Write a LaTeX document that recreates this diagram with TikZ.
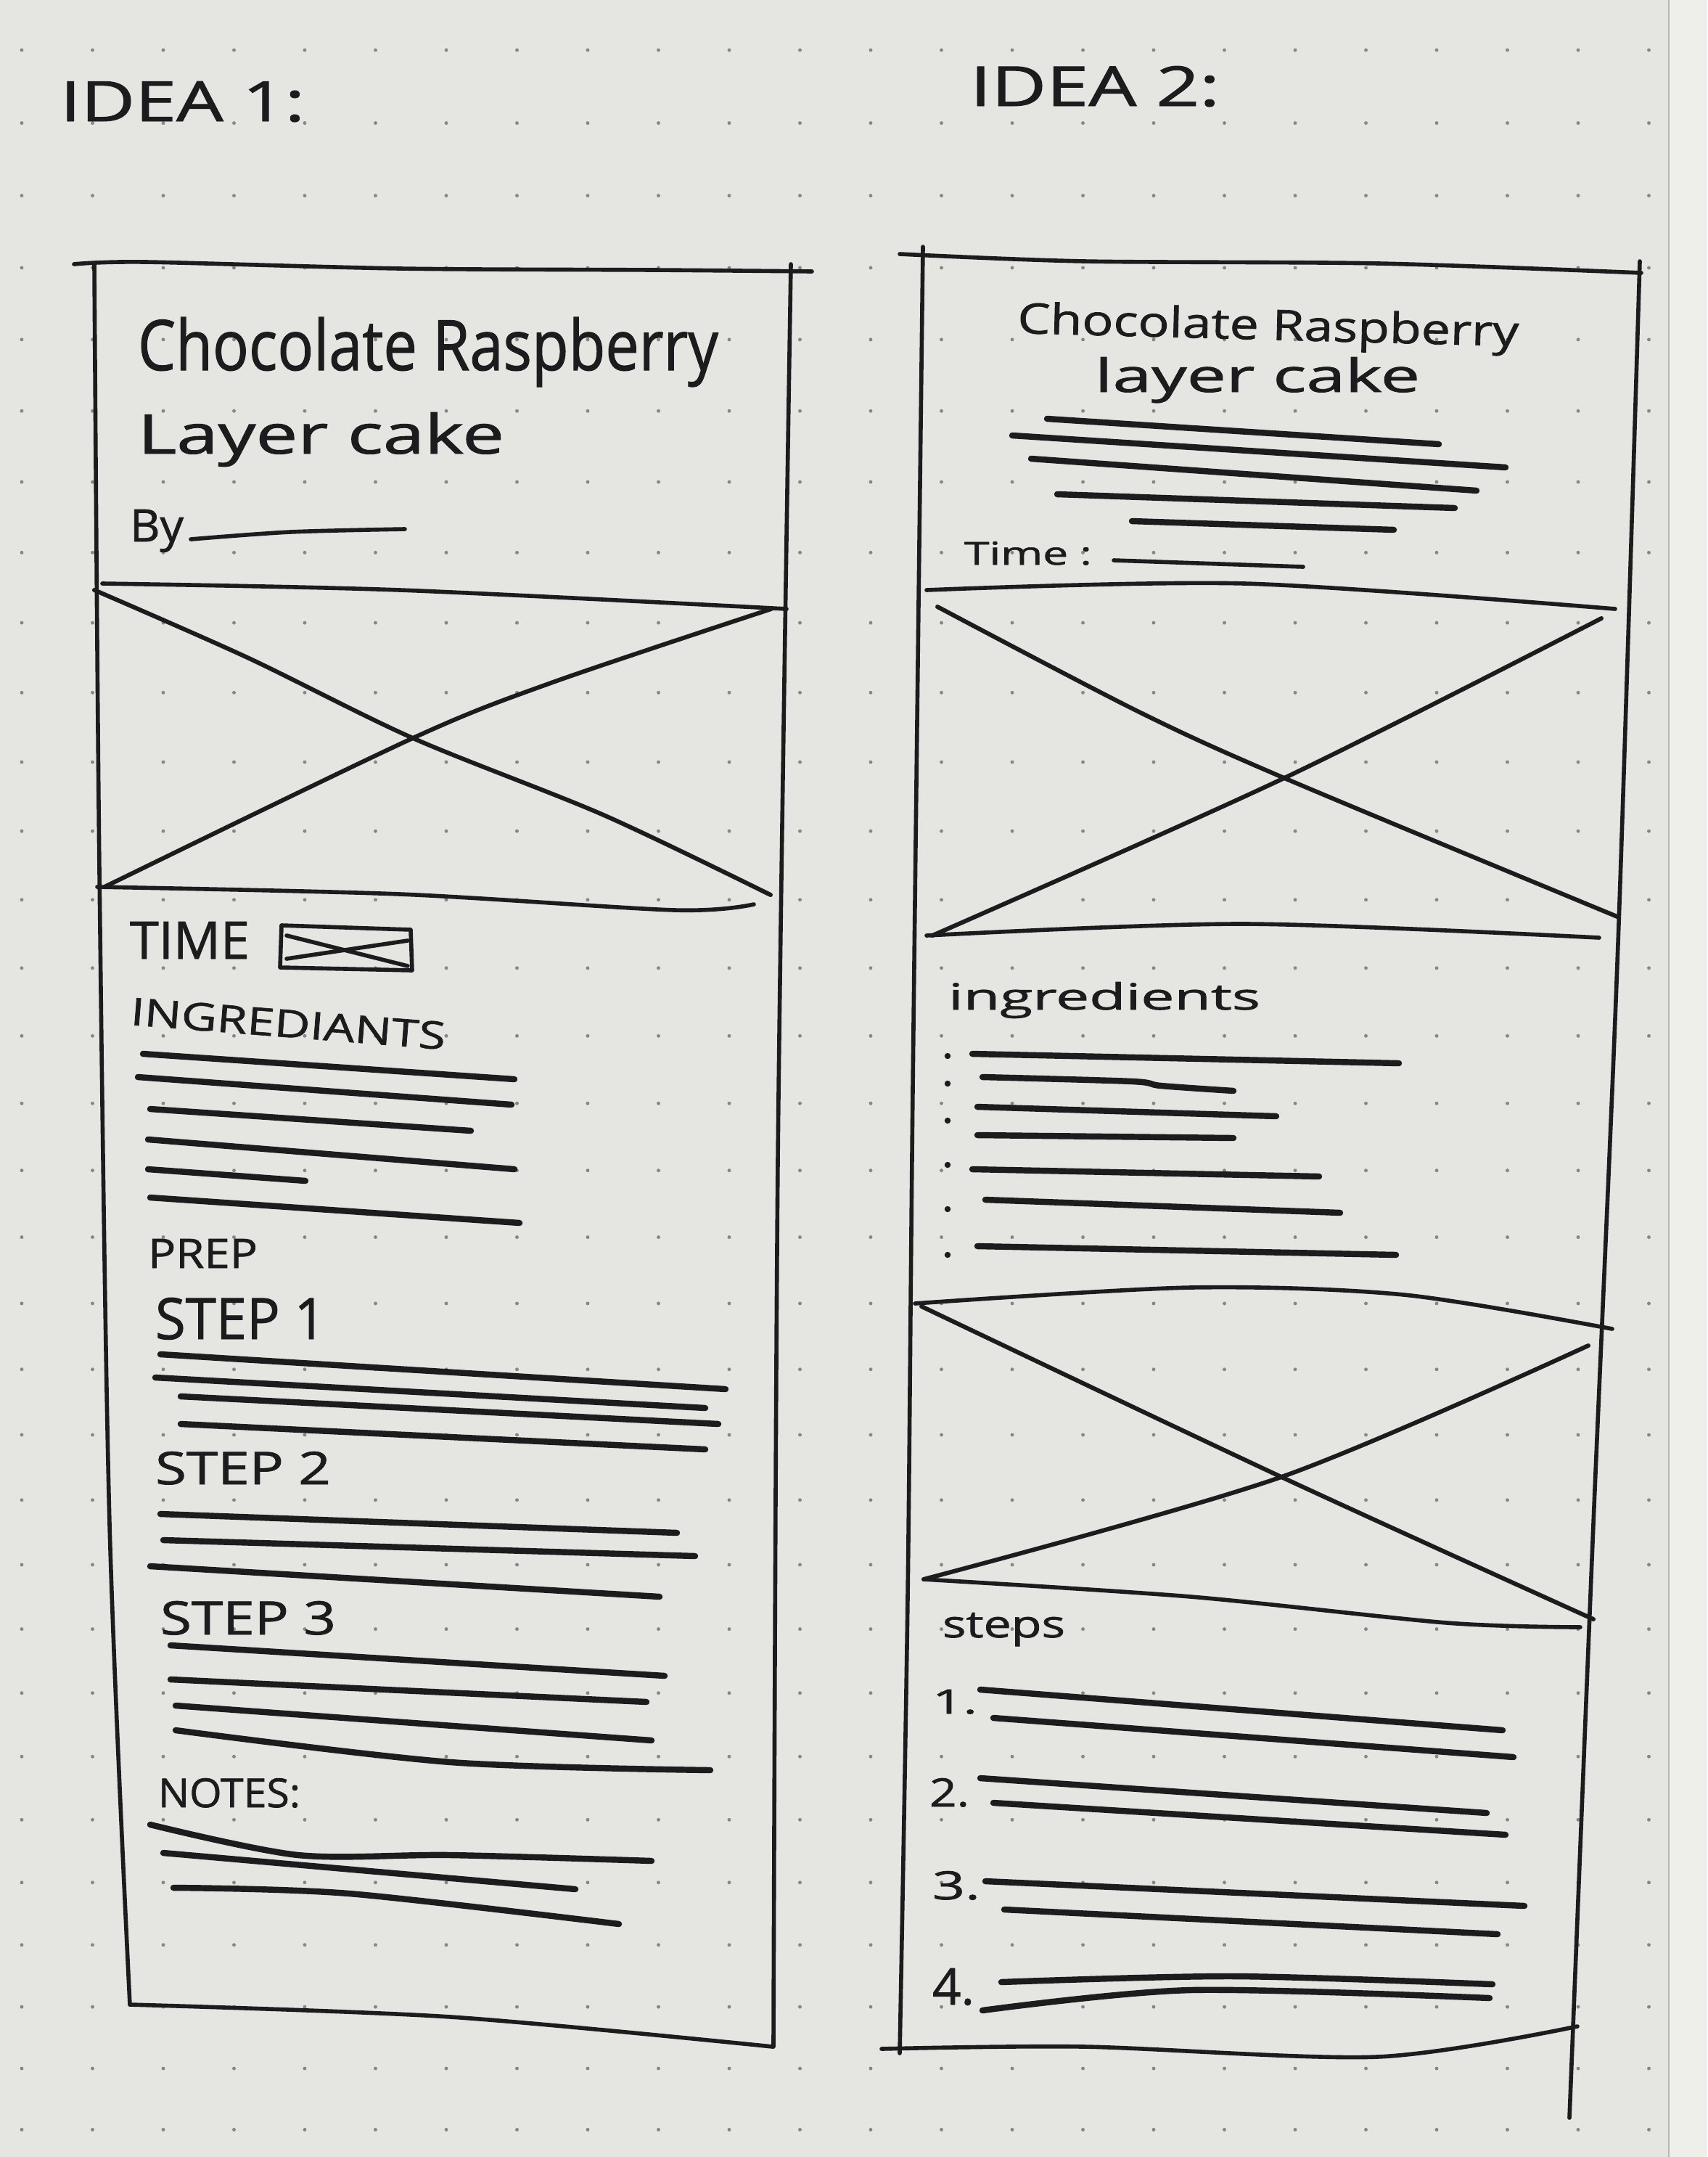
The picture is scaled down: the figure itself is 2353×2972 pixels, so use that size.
\documentclass[tikz,border=0pt]{standalone}
\usepackage{fontspec}
\setmainfont[FakeBold=1.2]{Open Sans}
\usepackage{graphicx}
\newlength\pxu
\setlength\pxu{0.01cm}
% hand lettering squeezed into a given width and height (in 0.01cm units)
\newcommand\hand[3]{\resizebox{#1\pxu}{#2\pxu}{#3}}
\definecolor{paper}{RGB}{229,229,225}
\definecolor{paperedge}{RGB}{238,238,235}
\definecolor{ink}{RGB}{28,28,30}
\definecolor{dotc}{RGB}{135,135,132}
\begin{document}
\begin{tikzpicture}[x=0.01cm,y=-0.01cm,
  frame/.style={draw=ink,line width=1.6pt,line cap=round,line join=round},
  cross/.style={draw=ink,line width=1.7pt,line cap=round},
  txtline/.style={draw=ink,line width=2.4pt,line cap=round},
  lbl/.style={inner sep=0pt,outer sep=0pt,anchor=base west,text=ink}]

\useasboundingbox (0,0) rectangle (2353,2972);
\fill[paper] (0,0) rectangle (2353,2972);
\fill[paperedge] (2300,0) rectangle (2353,2972);
\draw[dotc!60,line width=0.6pt] (2300,0) -- (2300,2972);

% dotted notebook grid
\foreach \i in {0,...,23}{
  \foreach \j in {0,...,31}{
    \pgfmathsetmacro\yy{69+100.8*\j-0.27*\j*\j}
    \fill[dotc] (30+97.5*\i,\yy) circle[radius=0.7pt];
  }
}

% ---------- headings ----------
\node[lbl] (idea1) at (83,167) {\hand{337}{55}{IDEA 1:}};
\node[lbl] (idea2) at (1337,146) {\hand{344}{55}{IDEA 2:}};

% ================= IDEA 1 =================
% outer frame
\draw[frame] plot[smooth] coordinates {(102,364) (200,361) (551,370) (900,372) (1119,374)};
\draw[frame] plot[smooth] coordinates {(130,364) (137,1200) (151,2100) (179,2762)};
\draw[frame] plot[smooth] coordinates {(179,2762) (621,2779) (1065,2820)};
\draw[frame] plot[smooth] coordinates {(1090,364) (1072,1600) (1066,2820)};

% title block
\node[lbl] (ltitle1) at (190,510) {\hand{800}{73}{Chocolate Raspberry}};
\node[lbl] (ltitle2) at (190,625) {\hand{505}{57}{Layer cake}};
\node[lbl] (lby) at (179,746) {\hand{74}{44}{By}};
\draw[frame] plot[smooth] coordinates {(263,743) (400,733) (558,729)};

% picture placeholder
\draw[frame] plot[smooth] coordinates {(141,804) (551,813) (1084,839)};
\draw[cross] plot[smooth] coordinates {(130,813) (341,906) (569,1017) (832,1123) (1062,1233)};
\draw[cross] plot[smooth] coordinates {(1063,839) (762,940) (569,1017) (144,1222)};
\draw[frame] plot[smooth] coordinates {(134,1222) (551,1232) (930,1254) (1039,1246)};

% time
\node[lbl] (ltime) at (179,1321) {\hand{165}{51}{TIME}};
\draw[frame] (388,1275) -- (566,1281) -- (568,1337) -- (386,1333) -- cycle;
\draw[frame] (395,1289) -- (562,1331);
\draw[frame] (395,1321) -- (562,1296);

% ingredients
\node[lbl,rotate=-4.5] (lingr) at (179,1412) {\hand{435}{38}{INGREDIANTS}};
\draw[txtline] (197,1452) -- (709,1487);
\draw[txtline] (190,1484) -- (705,1522);
\draw[txtline] (207,1528) -- (649,1558);
\draw[txtline] (204,1570) -- (709,1611);
\draw[txtline] (204,1611) -- (421,1627);
\draw[txtline] (207,1650) -- (716,1685);

% preparation
\node[lbl] (prep) at (204,1747) {\hand{151}{40}{PREP}};
\node[lbl] (step1) at (214,1845) {\hand{235}{57}{STEP 1}};
\draw[txtline] (221,1866) -- (1000,1914);
\draw[txtline] (214,1898) -- (972,1940);
\draw[txtline] (249,1924) -- (990,1962);
\draw[txtline] (249,1962) -- (972,1997);

\node[lbl] (step2) at (214,2045) {\hand{242}{45}{STEP 2}};
\draw[txtline] (221,2086) -- (933,2112);
\draw[txtline] (225,2122) -- (958,2144);
\draw[txtline] (207,2158) -- (909,2200);

\node[lbl] (step3) at (221,2252) {\hand{242}{46}{STEP 3}};
\draw[txtline] (235,2267) -- (916,2309);
\draw[txtline] (235,2314) -- (891,2345);
\draw[txtline] (242,2350) -- (898,2398);
\draw[txtline] plot[smooth] coordinates {(242,2384) (621,2428) (979,2439)};

% notes
\node[lbl] (notes) at (218,2490) {\hand{196}{40}{NOTES:}};
\draw[txtline] plot[smooth] coordinates {(207,2514) (411,2556) (621,2556) (898,2564)};
\draw[txtline] (225,2553) -- (793,2603);
\draw[txtline] plot[smooth] coordinates {(239,2601) (481,2609) (853,2651)};

% ================= IDEA 2 =================
% outer frame
\draw[frame] plot[smooth] coordinates {(1240,350) (1494,360) (1900,363) (2262,376)};
\draw[frame] plot[smooth] coordinates {(1272,340) (1258,1500) (1251,2200) (1240,2829)};
\draw[frame] plot[smooth] coordinates {(2260,360) (2230,1300) (2196,2100) (2163,2918)};
\draw[frame] plot[smooth] coordinates {(1215,2823) (1494,2820) (1898,2834) (2174,2792)};

% title block
\node[lbl,rotate=-1.5] (rtitle1) at (1402,459) {\hand{691}{44}{Chocolate Raspberry}};
\node[lbl] (rtitle2) at (1509,540) {\hand{448}{48}{layer cake}};
\draw[txtline] (1443,577) -- (1983,612);
\draw[txtline] (1395,600) -- (2075,644);
\draw[txtline] (1421,632) -- (2035,676);
\draw[txtline] (1457,681) -- (2005,700);
\draw[txtline] (1560,718) -- (1921,730);
\node[lbl] (rtime) at (1329,778) {\hand{176}{32}{Time :}};
\draw[frame] (1535,772) -- (1796,781);

% first picture placeholder
\draw[frame] plot[smooth] coordinates {(1277,813) (1715,804) (2226,839)};
\draw[cross] plot[smooth] coordinates {(1292,836) (1568,980) (1770,1072) (2229,1263)};
\draw[cross] plot[smooth] coordinates {(2207,852) (1770,1072) (1285,1289)};
\draw[frame] plot[smooth] coordinates {(1277,1289) (1715,1273) (2204,1292)};

% ingredients
\node[lbl] (ringr) at (1307,1391) {\hand{430}{38}{ingredients}};
\foreach \by in {1455,1493,1544,1605,1666,1729}{
  \fill[ink] (1306,\by) circle[radius=1.2pt];
}
\draw[txtline] (1340,1452) -- (1928,1465);
\draw[txtline] plot[smooth] coordinates {(1354,1484) (1560,1490) (1600,1496) (1700,1503)};
\draw[txtline] (1347,1525) -- (1759,1538);
\draw[txtline] (1347,1564) -- (1700,1568);
\draw[txtline] (1340,1611) -- (1818,1621);
\draw[txtline] (1358,1653) -- (1847,1671);
\draw[txtline] (1347,1717) -- (1924,1729);

% second picture placeholder
\draw[frame] plot[smooth] coordinates {(1261,1796) (1641,1774) (1935,1784) (2222,1831)};
\draw[cross] plot[smooth] coordinates {(1270,1800) (1766,2035) (2196,2231)};
\draw[cross] plot[smooth] coordinates {(2189,1854) (1766,2035) (1273,2176)};
\draw[frame] plot[smooth] coordinates {(1273,2176) (1641,2200) (1994,2236) (2178,2242)};

% steps
\node[lbl] (steps) at (1299,2256) {\hand{169}{34}{steps}};
\node[lbl] (n1) at (1285,2361) {\hand{62}{33}{1.}};
\draw[txtline] (1351,2328) -- (2071,2384);
\draw[txtline] (1369,2367) -- (2086,2421);
\node[lbl] (n2) at (1281,2489) {\hand{55}{39}{2.}};
\draw[txtline] (1351,2450) -- (2049,2498);
\draw[txtline] (1369,2484) -- (2075,2528);
\node[lbl] (n3) at (1285,2617) {\hand{66}{39}{3.}};
\draw[txtline] (1358,2592) -- (2101,2626);
\draw[txtline] (1384,2631) -- (2064,2665);
\node[lbl] (n4) at (1285,2762) {\hand{58}{50}{4.}};
\draw[txtline] plot[smooth] coordinates {(1380,2731) (1700,2723) (2057,2734)};
\draw[txtline] plot[smooth] coordinates {(1354,2770) (1641,2742) (2053,2753)};

\end{tikzpicture}
\end{document}
